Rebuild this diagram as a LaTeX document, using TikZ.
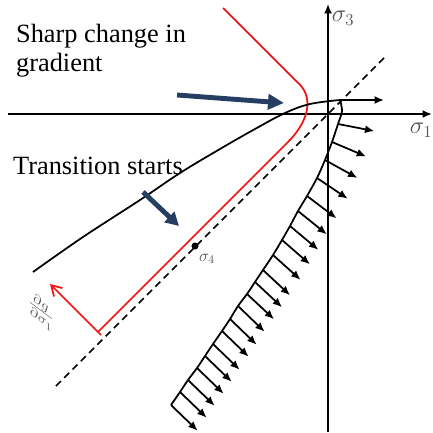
\documentclass[tikz,border=0pt]{standalone}
\usepackage{fontspec}
\setmainfont{Liberation Serif}
\usepackage{xcolor}
\usepackage{tikz}
\usetikzlibrary{arrows.meta, positioning, calc}
\definecolor{gradred}{RGB}{240, 20, 20}
\definecolor{pointerblue}{RGB}{38, 62, 98}
\definecolor{labelgray}{RGB}{85, 85, 85}

\begin{document}
\begin{tikzpicture}[
    x=0.03cm, y=-0.03cm,
    every node/.style={font=\fontsize{22.5}{25.5}\selectfont},
    axis/.style={-{Latex[length=2.8mm, width=2.4mm]}, line width=1.5pt},
    surface/.style={line width=1.5pt},
    flow/.style={-{Latex[length=2.8mm, width=2.4mm]}, line width=1.5pt},
    pointer/.style={-{Triangle[length=4.8mm, width=4.5mm]}, line width=4.2pt, pointerblue},
    hydro/.style={dash pattern=on 6pt off 4pt, line width=1.3pt},
    gradline/.style={gradred, line width=1.5pt},
    symb/.style={font=\fontsize{20}{24}\selectfont, text=labelgray}
]
\useasboundingbox (0,0) rectangle (433,432);

\coordinate (origin) at (328,114);
\draw[axis] (8,114) -- (432,114);
\draw[axis] (328,432) -- (328,4);
\node[symb] (s3) at (343,18) {$\sigma_3$};
\node[symb] (s1) at (421,130) {$\sigma_1$};

\draw[hydro] (384,58) -- (56,386);

\draw[gradline] (98,332) -- (288,142) .. controls (309,121) and (315,96) .. (296,81) -- (223,8);
\draw[gradline, -{Straight Barb[length=3mm, width=3.6mm]}] (101,335) -- (50,284);
\node[symb, font=\fontsize{18}{20}\selectfont, yslant=-0.75] (dgds) at (41,311) {$\frac{\partial g}{\partial\sigma_1}$};

\node[circle, fill, inner sep=0pt, minimum size=6pt] (s4dot) at (195,246) {};
\node[symb, font=\fontsize{14}{16}\selectfont] (s4) at (207,259) {$\sigma_4$};

\draw[surface] plot[smooth, tension=0.6] coordinates {(33,272) (83,237) (140,200) (180,173) (220,149) (255,129) (285,113) (310,104) (340,100)};
\draw[surface] plot[smooth, tension=0.5] coordinates {(340,100) (342,111) (338,124) (332,142) (325,160) (317,178) (307,196) (298,211) (290,226) (282,240) (273,255) (263,270) (255,282) (247,294) (238,306) (230,319) (222,331) (213,344) (205,356) (197,368) (188,380) (180,392) (171,405)};
\draw[flow] (340,100) -- ++(0:44);
\foreach \px/\py/\ang in {338/124/11, 332/142/23, 325/160/29, 317/178/34, 307/196/37, 298/211/39, 290/226/40, 282/240/41, 273/255/42, 263/270/43, 255/282/43, 247/294/43, 238/306/44, 230/319/44, 222/331/44, 213/344/44, 205/356/44, 197/368/44, 188/380/44, 180/392/44, 171/405/44}
    \draw[flow] (\px,\py) -- ++(\ang:37);

\node[anchor=base west, align=left] (sharp) at (12,72) {Sharp change in\\gradient};
\node[anchor=base west] (trans) at (9,175) {Transition starts};
\draw[pointer] (177,95) -- (284,103);
\draw[pointer, -{Triangle[length=4mm, width=4.2mm]}] (143,192) -- (179,226);
\end{tikzpicture}
\end{document}
